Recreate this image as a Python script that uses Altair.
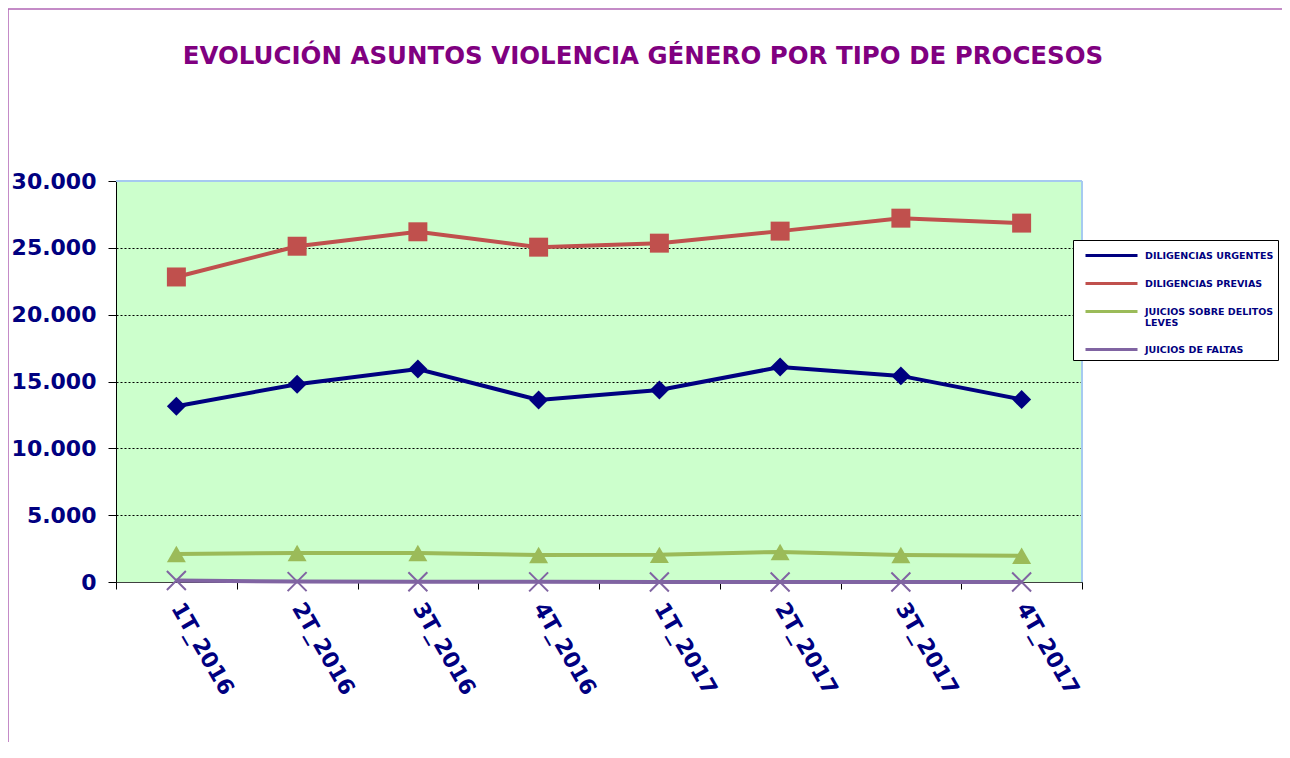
import altair as alt
import pandas as pd

categories = ["1T_2016", "2T_2016", "3T_2016", "4T_2016",
              "1T_2017", "2T_2017", "3T_2017", "4T_2017"]
series_names = ["DILIGENCIAS URGENTES", "DILIGENCIAS PREVIAS",
                "JUICIOS SOBRE DELITOS LEVES", "JUICIOS DE FALTAS"]
diligencias_urgentes = [13150, 14800, 15930, 13620, 14360, 16080, 15420, 13650]
diligencias_previas = [22820, 25120, 26200, 25050, 25350, 26250, 27220, 26850]
juicios_delitos_leves = [2100, 2170, 2170, 2020, 2030, 2250, 2020, 1960]
juicios_faltas = [110, 30, 15, 10, 5, 5, 5, 5]
colors = ["#000080", "#C0504D", "#9BBB59", "#8064A2"]
title_text = "EVOLUCIÓN ASUNTOS VIOLENCIA GÉNERO POR TIPO DE PROCESOS"

values = [diligencias_urgentes, diligencias_previas, juicios_delitos_leves, juicios_faltas]
rows = []
for name, vals in zip(series_names, values):
    for c, v in zip(categories, vals):
        rows.append({"periodo": c, "serie": name, "valor": v})
df = pd.DataFrame(rows)

FONT = "DejaVu Sans"
NAVY = "#000080"

x_enc = alt.X("periodo:N", sort=categories,
              scale=alt.Scale(type="band", paddingInner=0, paddingOuter=0),
              axis=alt.Axis(title=None, tickBand="extent", labelAngle=60,
                            labelAlign="left", labelBaseline="middle",
                            labelFont=FONT, labelFontSize=22, labelFontWeight="bold",
                            labelColor=NAVY, labelPadding=15, tickSize=7,
                            tickColor="#000000", domainColor="#404040",
                            grid=False))
y_enc = alt.Y("valor:Q",
              scale=alt.Scale(domain=[0, 30000], nice=False),
              axis=alt.Axis(title=None, values=[0, 5000, 10000, 15000, 20000, 25000, 30000],
                            labelExpr="replace(format(datum.value, ','), ',', '.')",
                            labelFont=FONT, labelFontSize=22, labelFontWeight="bold",
                            labelColor=NAVY, labelPadding=12, tickSize=8,
                            tickColor="#000000", domainColor="#000000",
                            grid=True, gridColor="#000000", gridDash=[2, 2],
                            gridWidth=1, gridOpacity=1))
color_enc = alt.Color("serie:N", sort=series_names,
                      scale=alt.Scale(domain=series_names, range=colors),
                      legend=alt.Legend(
                          title=None, orient="none", legendX=957, legendY=59,
                          fillColor="#FFFFFF", strokeColor="#000000", padding=4,
                          symbolType="M-2.6,0L2.6,0", symbolStrokeWidth=3, symbolSize=400,
                          symbolOffset=23,
                          labelFont=FONT, labelFontSize=9.5, labelFontWeight="bold",
                          labelColor=NAVY, rowPadding=10, labelOffset=22,
                          labelExpr="datum.label == 'JUICIOS SOBRE DELITOS LEVES' ? ['JUICIOS SOBRE DELITOS', 'LEVES'] : datum.label"))

base = alt.Chart(df)

lines = base.mark_line(strokeWidth=4).encode(x=x_enc, y=y_enc, color=color_enc)

filled_pts = base.transform_filter(
    alt.datum.serie != "JUICIOS DE FALTAS"
).mark_point(filled=True, opacity=1, size=360).encode(
    x=x_enc, y=y_enc,
    color=alt.Color("serie:N", scale=alt.Scale(domain=series_names, range=colors), legend=None),
    shape=alt.Shape("serie:N",
                    scale=alt.Scale(domain=series_names[:3],
                                    range=["diamond", "square", "triangle-up"]),
                    legend=None),
)

x_pts = base.transform_filter(
    alt.datum.serie == "JUICIOS DE FALTAS"
).mark_point(filled=False, opacity=1, size=360, strokeWidth=2,
             shape="M-1,-1L1,1M-1,1L1,-1", color="#8064A2").encode(x=x_enc, y=y_enc)

one = pd.DataFrame({"a": [0]})
frame_color = "#A6CAF0"
top_frame = alt.Chart(one).mark_rule(color=frame_color, strokeWidth=2).encode(
    x=alt.value(0), x2=alt.value(966), y=alt.value(0))
right_frame = alt.Chart(one).mark_rule(color=frame_color, strokeWidth=2).encode(
    x=alt.value(966), y=alt.value(0), y2=alt.value(401))

border_color = "#B065B5"
left_border = alt.Chart(one).mark_rule(color=border_color, strokeWidth=1.5).encode(
    x=alt.value(-108), y=alt.value(-172), y2=alt.value(600))
top_border = alt.Chart(one).mark_rule(color=border_color, strokeWidth=1.5).encode(
    x=alt.value(-108), x2=alt.value(1170), y=alt.value(-172))

title = alt.Chart(one).mark_text(
    font=FONT, fontSize=24.5, fontWeight="bold", color="#800080",
    align="center", baseline="alphabetic").encode(
    x=alt.value(527), y=alt.value(-117), text=alt.value(title_text))

chart = alt.layer(lines, filled_pts, x_pts, top_frame, right_frame,
                  left_border, top_border, title).properties(
    width=966, height=401,
    autosize=alt.AutoSizeParams(type="none"),
    padding={"left": 108, "top": 173, "right": 200, "bottom": 160},
).configure_view(
    fill="#CCFFCC", stroke=None
)

chart.save("out.html", embed_options={"renderer": "svg", "actions": False})
